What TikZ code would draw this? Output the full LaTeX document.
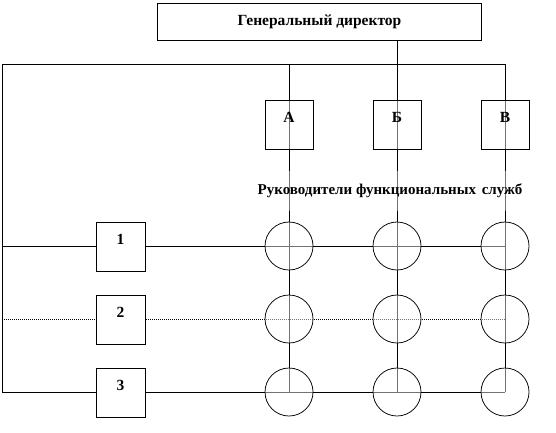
\documentclass[tikz,border=0pt]{standalone}
\usepackage{fontspec}
\setmainfont{Liberation Serif}
\pgfdeclarelayer{bg}
\pgfsetlayers{bg,main}
\begin{document}
\begin{tikzpicture}[x=1pt,y=-1pt,
  font=\fontsize{15.5}{18}\selectfont\bfseries,
  conn/.style={line width=0.8pt, black},
  thinconn/.style={line width=0.7pt, black, dash pattern=on 1pt off 1pt},
  dirbox/.style={draw=black, line width=0.7pt, fill=white, minimum width=324pt, minimum height=37pt, inner sep=0pt},
  headbox/.style={draw=black, line width=0.7pt, fill=white, fill opacity=0.45, text opacity=1,
     minimum width=48pt, minimum height=49pt, inner sep=0pt, text height=11pt, text depth=16pt},
  rowbox/.style={draw=black, line width=0.7pt, fill=white,
     minimum width=49pt, minimum height=49pt, inner sep=0pt, text height=11pt, text depth=16pt},
  cell/.style={circle, draw=black, line width=0.75pt, fill=white, fill opacity=0.45, draw opacity=1, minimum size=48pt, inner sep=0pt},
  caption/.style={fill=white, fill opacity=0.45, text opacity=1, minimum height=40pt, inner sep=1pt}
]
\useasboundingbox (0,0) rectangle (556,432);

% nodes
\node[dirbox] (dir) at (319.5,21.5) {Генеральный директор};
\node[headbox] (A) at (289,124.5) {А};
\node[headbox] (B) at (397,124.5) {Б};
\node[headbox] (V) at (505,124.5) {В};
\node[caption] (lbl) at (390,191) {\fontsize{15}{18}\selectfont Руководители функциональных\hspace{2pt} служб};

\node[rowbox] (r1) at (120.5,246.5) {1};
\node[rowbox] (r2) at (120.5,319.5) {2};
\node[rowbox] (r3) at (120.5,392.5) {3};

\foreach \c/\x in {1/289,2/397,3/505}{
  \node[cell] (c1\c) at (\x,246) {};
  \node[cell] (c2\c) at (\x,319) {};
  \node[cell] (c3\c) at (\x,392) {};
}

\coordinate (tl) at (2,64);
\coordinate (tr) at (505,64);
\coordinate (bl) at (2,392);
\coordinate (dtap) at (397,64);

\begin{pgfonlayer}{bg}
  \draw[conn] (dtap |- dir.south) -- (dtap);
  \draw[conn] (tl) -- (tr);
  \draw[conn] (tl) -- (bl);
  \draw[conn] (A.center |- tl) -- (c31.center);
  \draw[conn] (B.center |- tl) -- (c32.center);
  \draw[conn] (V.center |- tl) -- (c33.center);
  \draw[conn] (tl |- c11.center) -- (c13.center);
  \draw[thinconn] (tl |- c21.center) -- (c23.center);
  \draw[conn] (tl |- c31.center) -- (c33.center);
\end{pgfonlayer}
\end{tikzpicture}
\end{document}
